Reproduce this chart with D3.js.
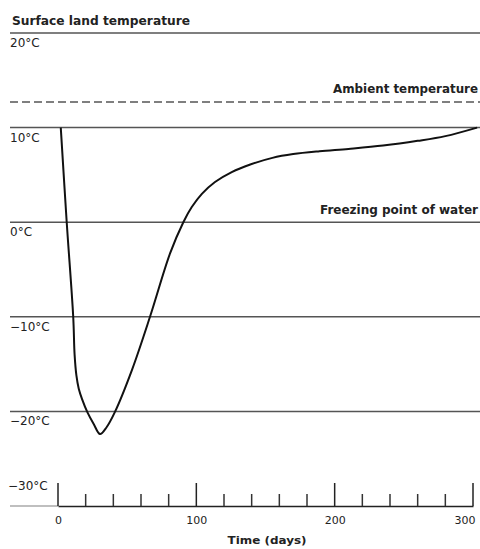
<!DOCTYPE html>
<html>
<head>
<meta charset="utf-8">
<script src="https://cdn.jsdelivr.net/npm/d3@7"></script>
<style>
  html, body { margin: 0; padding: 0; background: #fff; }
  svg { display: block; }
  text { font-family: "DejaVu Sans", "Liberation Sans", sans-serif; fill: #222; }
</style>
</head>
<body>
<svg id="chart" width="480" height="549"></svg>
<script>
// ---- data ----
const levelTemps = [20, 10, 0, -10, -20];
const levelLabels = ["20°C", "10°C", "0°C", "−10°C", "−20°C"];
const axisTemp = -30;
const axisLabel = "−30°C";
const ambientTemp = 12.7;
const surfaceLabel = "Surface land temperature";
const ambientLabel = "Ambient temperature";
const freezingLabel = "Freezing point of water";
const xTickValues = [0, 100, 200, 300];
const xMinorTicks = [20, 40, 60, 80, 120, 140, 160, 180, 220, 240, 260, 280];
const xTitle = "Time (days)";
const curveDays  = [2, 6.3, 11.0, 12.0, 13.3, 15.0, 17.4, 21.3, 25.7, 30.4, 35, 41, 53.5, 66.5, 81, 90.6, 96.7, 104, 113.5, 125.6, 139, 155, 170, 189, 210, 235, 260, 280, 303];
const curveTemps = [10, 0, -10, -14, -16.2, -17.6, -18.7, -20.1, -21.3, -22.4, -21.7, -20.1, -15.6, -10, -3.3, 0, 1.6, 3.0, 4.25, 5.3, 6.1, 6.8, 7.2, 7.5, 7.75, 8.1, 8.6, 9.1, 10];

// ---- scales ----
const svg = d3.select("#chart");
const x = d3.scaleLinear().domain([0, 300]).range([58, 473]);
const y = d3.scaleLinear().domain([-30, 20]).range([506, 33]);
const lineLeft = 10, lineRight = 480;
const lineColor = "#555";

// reference lines
svg.selectAll("line.level").data(levelTemps).join("line")
  .attr("class", "level")
  .attr("x1", lineLeft).attr("x2", lineRight)
  .attr("y1", d => y(d)).attr("y2", d => y(d))
  .attr("stroke", lineColor).attr("stroke-width", 1.5);

svg.selectAll("text.level").data(levelTemps).join("text")
  .attr("class", "level")
  .attr("x", 10).attr("y", d => y(d) + 14)
  .attr("font-size", 12)
  .text((d, i) => levelLabels[i]);

// ambient dashed line
svg.append("line")
  .attr("x1", lineLeft).attr("x2", lineRight)
  .attr("y1", y(ambientTemp)).attr("y2", y(ambientTemp))
  .attr("stroke", lineColor).attr("stroke-width", 1.5)
  .attr("stroke-dasharray", "8,4");

// labels
svg.append("text").attr("x", 12).attr("y", 25)
  .attr("font-size", 12).attr("font-weight", "bold")
  .attr("textLength", 178).attr("lengthAdjust", "spacingAndGlyphs")
  .text(surfaceLabel);
svg.append("text").attr("x", 478).attr("y", y(ambientTemp) - 9)
  .attr("text-anchor", "end")
  .attr("font-size", 12).attr("font-weight", "bold")
  .attr("textLength", 145).attr("lengthAdjust", "spacingAndGlyphs")
  .text(ambientLabel);
svg.append("text").attr("x", 478).attr("y", y(0) - 8)
  .attr("text-anchor", "end")
  .attr("font-size", 12).attr("font-weight", "bold")
  .attr("textLength", 158).attr("lengthAdjust", "spacingAndGlyphs")
  .text(freezingLabel);

// x axis
svg.append("line")
  .attr("x1", lineLeft).attr("x2", x(0))
  .attr("y1", y(axisTemp)).attr("y2", y(axisTemp))
  .attr("stroke", "#aaa").attr("stroke-width", 1.5);
const axis = d3.axisBottom(x)
  .tickValues(xTickValues)
  .tickSize(0)
  .tickPadding(10)
  .tickFormat(d3.format("d"));
const gAxis = svg.append("g")
  .attr("transform", `translate(0,${y(axisTemp)})`)
  .call(axis);
gAxis.select(".domain").attr("stroke", "#222").attr("stroke-width", 1.5);
gAxis.selectAll(".tick text")
  .attr("font-size", 11).attr("fill", "#222")
  .attr("font-family", "DejaVu Sans, sans-serif");
gAxis.selectAll(".tick text").filter(d => d === 300)
  .attr("text-anchor", "end").attr("x", 2);

svg.selectAll("line.major").data(xTickValues).join("line")
  .attr("class", "major")
  .attr("x1", d => x(d)).attr("x2", d => x(d))
  .attr("y1", y(axisTemp) - 23).attr("y2", y(axisTemp))
  .attr("stroke", "#222").attr("stroke-width", 1.5);
svg.selectAll("line.minor").data(xMinorTicks).join("line")
  .attr("class", "minor")
  .attr("x1", d => x(d)).attr("x2", d => x(d))
  .attr("y1", y(axisTemp) - 12).attr("y2", y(axisTemp))
  .attr("stroke", "#333").attr("stroke-width", 1.5);

svg.append("text").attr("x", 8).attr("y", y(axisTemp) - 16)
  .attr("font-size", 12)
  .text(axisLabel);

svg.append("text").attr("x", 267).attr("y", 544)
  .attr("text-anchor", "middle")
  .attr("font-size", 11).attr("font-weight", "bold")
  .attr("textLength", 79).attr("lengthAdjust", "spacingAndGlyphs")
  .text(xTitle);

// curve
const pts = curveDays.map((d, i) => [d, curveTemps[i]]);
const line = d3.line()
  .x(d => x(d[0])).y(d => y(d[1]))
  .curve(d3.curveCatmullRom.alpha(0.5));
svg.append("path")
  .attr("d", line(pts))
  .attr("fill", "none")
  .attr("stroke", "#111")
  .attr("stroke-width", 2);
</script>
</body>
</html>
